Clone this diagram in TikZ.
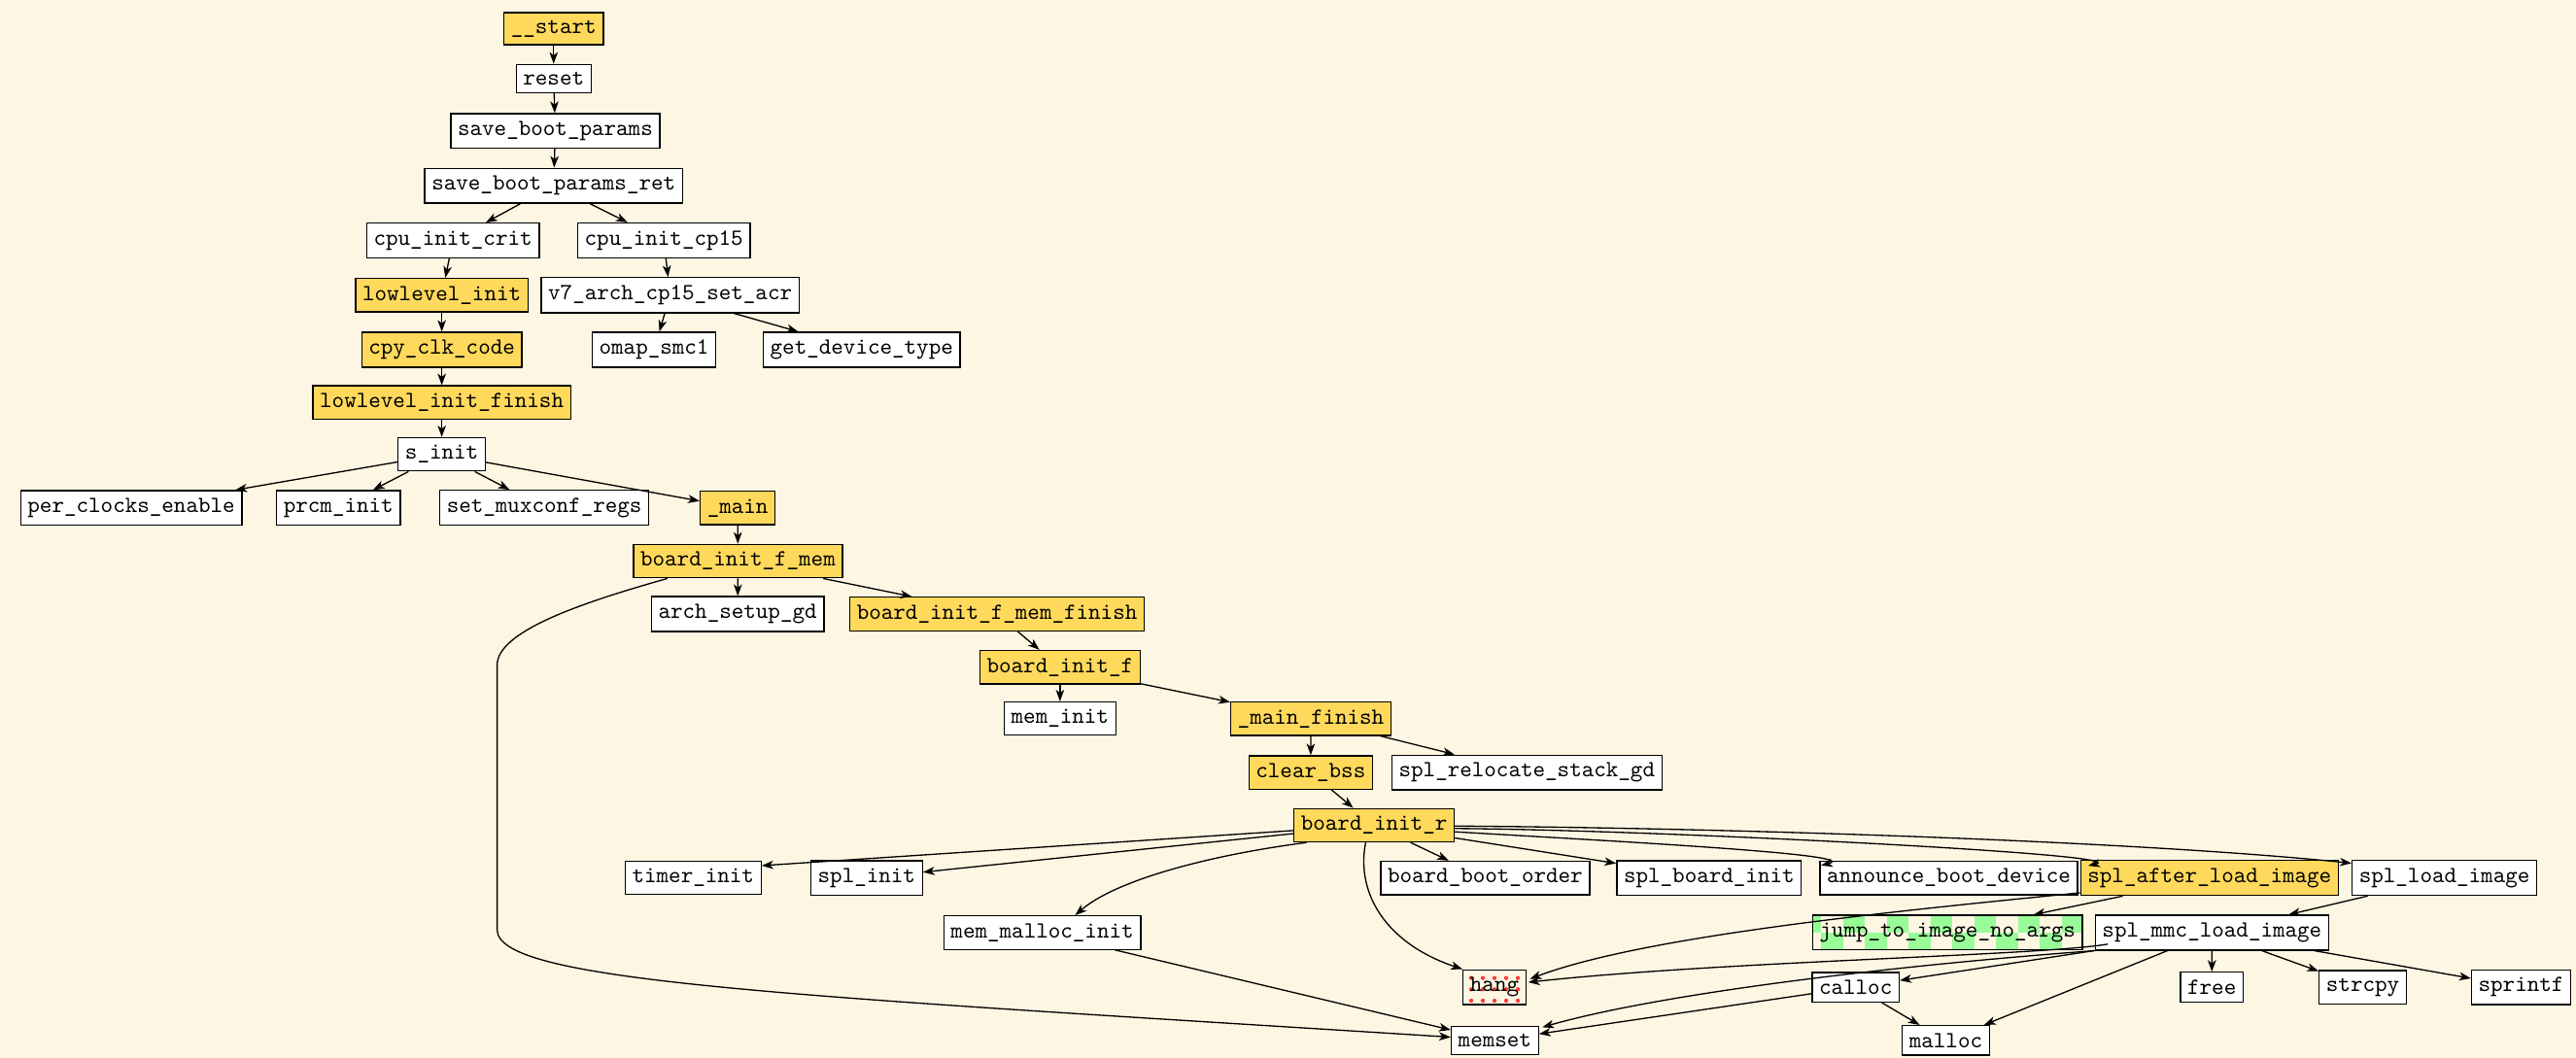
\documentclass[tikz,border=0pt]{standalone}
\usepackage{fontspec}
\usetikzlibrary{arrows.meta,calc}
\definecolor{bgcream}{HTML}{FDF6E3}
\definecolor{fnyellow}{RGB}{255,217,92}
\definecolor{jumpgreen}{RGB}{152,251,152}
\definecolor{hangred}{RGB}{255,56,56}
\tikzset{
	fn/.style={draw,line width=.55pt,fill=white,font=\ttfamily,inner xsep=3pt,inner ysep=3.3pt},
	hot/.style={fn,fill=fnyellow},
	jumpbox/.style={fn,fill=bgcream,path picture={
		\foreach \k in {-2,...,6}{
			\fill[jumpgreen]($(path picture bounding box.center)+(-63.6+26.6*\k,-11)$)rectangle++(13.3,11);
			\fill[jumpgreen]($(path picture bounding box.center)+(-76.9+26.6*\k,0)$)rectangle++(13.3,11);
		}}},
	hangbox/.style={fn,fill=bgcream,path picture={
		\foreach \i in {0,...,4}\foreach \j in {0,1,2}
			\fill[hangred]($(path picture bounding box.center)+(-14.2+7.1*\i,-5.6+6.9*\j)$)circle(.9pt);
		}},
	call/.style={-{Stealth[length=5pt,width=3.6pt,inset=1.4pt]},line width=.55pt},
}
\begin{document}
\begin{tikzpicture}[x=.7075pt,y=-.7075pt]
	\fill[bgcream](0,0)rectangle(1568,644);
	\useasboundingbox(0,0)rectangle(1568,644);
	\node[hot](start)at(337,17.4){\_\_start};
	\node[fn](reset)at(337,47.8){reset};
	\node[fn](sbp)at(338,79.7){save\_boot\_params};
	\node[fn](sbpr)at(337,113){save\_boot\_params\_ret};
	\node[fn](crit)at(275.7,146.4){cpu\_init\_crit};
	\node[fn](cp15)at(404.1,146.4){cpu\_init\_cp15};
	\node[hot](llinit)at(268.9,179.7){lowlevel\_init};
	\node[fn](v7acr)at(407.9,179.7){v7\_arch\_cp15\_set\_acr};
	\node[hot](cpyclk)at(268.9,212.9){cpy\_clk\_code};
	\node[fn](smc)at(398.1,212.9){omap\_smc1};
	\node[fn](devtype)at(524.5,212.9){get\_device\_type};
	\node[hot](llfin)at(268.9,245.1){lowlevel\_init\_finish};
	\node[fn](sinit)at(268.9,276.6){s\_init};
	\node[fn](perclk)at(79.9,309.2){per\_clocks\_enable};
	\node[fn](prcm)at(206,309.2){prcm\_init};
	\node[fn](muxconf)at(331.3,309.2){set\_muxconf\_regs};
	\node[hot](main)at(449,309.2){\_main};
	\node[hot](bifm)at(449.2,341.6){board\_init\_f\_mem};
	\node[fn](archgd)at(449,373.8){arch\_setup\_gd};
	\node[hot](bifmfin)at(606.9,373.8){board\_init\_f\_mem\_finish};
	\node[hot](bif)at(645.2,406.2){board\_init\_f};
	\node[fn](meminit)at(645.2,437.5){mem\_init};
	\node[hot](mainfin)at(797.9,437.5){\_main\_finish};
	\node[hot](bss)at(797.8,470.3){clear\_bss};
	\node[fn](reloc)at(929.4,470.3){spl\_relocate\_stack\_gd};
	\node[hot](bir)at(836.4,502.4){board\_init\_r};
	\node[fn](timer)at(421.9,534.5){timer\_init};
	\node[fn](splinit)at(527.5,534.5){spl\_init};
	\node[fn](bootorder)at(904,534.5){board\_boot\_order};
	\node[fn](boardinit)at(1040.3,534.5){spl\_board\_init};
	\node[fn](announce)at(1186.2,534.5){announce\_boot\_device};
	\node[hot](afterload)at(1344.9,534.5){spl\_after\_load\_image};
	\node[fn](loadimg)at(1487.9,534.5){spl\_load\_image};
	\node[fn](mallocinit)at(634.4,567.8){mem\_malloc\_init};
	\node[jumpbox](jump)at(1185.4,567.8){jump\_to\_image\_no\_args};
	\node[fn](mmc)at(1346.4,567.8){spl\_mmc\_load\_image};
	\node[hangbox](hang)at(909.7,601){hang};
	\node[fn](calloc)at(1129.5,601){calloc};
	\node[fn](free)at(1346.3,601){free};
	\node[fn](strcpy)at(1438.2,601){strcpy};
	\node[fn](sprintf)at(1534.6,601){sprintf};
	\node[fn](memset)at(909.9,633.4){memset};
	\node[fn](malloc)at(1184.4,633.4){malloc};
	% calls
	\draw[call](start)--(reset);
	\draw[call](reset)--(sbp);
	\draw[call](sbp)--(sbpr);
	\draw[call](sbpr)--(crit);
	\draw[call](sbpr)--(cp15);
	\draw[call](crit)--(llinit);
	\draw[call](cp15)--(v7acr);
	\draw[call](v7acr)--(smc);
	\draw[call](v7acr)--(devtype);
	\draw[call](llinit)--(cpyclk);
	\draw[call](cpyclk)--(llfin);
	\draw[call](llfin)--(sinit);
	\foreach \t in{perclk,prcm,muxconf,main}{
		\draw[call](sinit)--(\t);
	}
	\draw[call](main)--(bifm);
	\draw[call](bifm)--(archgd);
	\draw[call](bifm)--(bifmfin);
	\draw[call]($(bifm.south west)+(21,0)$)..controls(350,368)and(302.6,385)..(302.6,405)--(302.6,566)
		..controls(302.6,598)and(480,606)..($(memset.west)+(0,-2)$);
	\draw[call](bifmfin)--(bif);
	\draw[call](bif)--(meminit);
	\draw[call](bif)--(mainfin);
	\draw[call](mainfin)--(bss);
	\draw[call](mainfin)--(reloc);
	\draw[call](bss)--(bir);
	\draw[call](bir)--($(timer.north east)+(0,3)$);
	\draw[call](bir)--(splinit);
	\draw[call]($(bir.south west)+(8,0)$)..controls(740,520)and(680,535)..($(mallocinit.north)+(20,0)$);
	\draw[call]($(bir.south west)+(44,0)$)..controls(825,545)and(845,575)..(hang.north west);
	\foreach \t in{bootorder,boardinit}{
		\draw[call](bir)--(\t);
	}
	\draw[call]($(bir.east)+(0,4)$)..controls(980,512)and(1135,520)..($(announce.north west)+(1,3)$);
	\draw[call]($(bir.east)+(0,2)$)..controls(1000,505)and(1300,520)..($(afterload.north west)+(5,3.6)$);
	\draw[call]($(bir.east)+(0,.5)$)..controls(1050,504)and(1300,512)..($(loadimg.north west)+(0,2)$);
	\draw[call](afterload)--(jump);
	\draw[call]($(afterload.south west)+(0,-2)$)..controls(1150,555)and(1000,570)..($(hang.east)+(2,-5)$);
	\draw[call](loadimg)--(mmc);
	\draw[call]($(mmc.south west)+(8,-4)$)..controls(1240,582)and(1050,585)..($(hang.east)+(1,-3)$);
	\draw[call](mmc.south west)..controls(1150,588)and(1010,605)..($(memset.north east)+(2,1)$);
	\foreach \t in{calloc,malloc,free,strcpy,sprintf}{
		\draw[call](mmc)--(\t);
	}
	\draw[call](calloc)--(memset);
	\draw[call](calloc)--(malloc);
	\draw[call](mallocinit)--(memset);
\end{tikzpicture}
\end{document}
